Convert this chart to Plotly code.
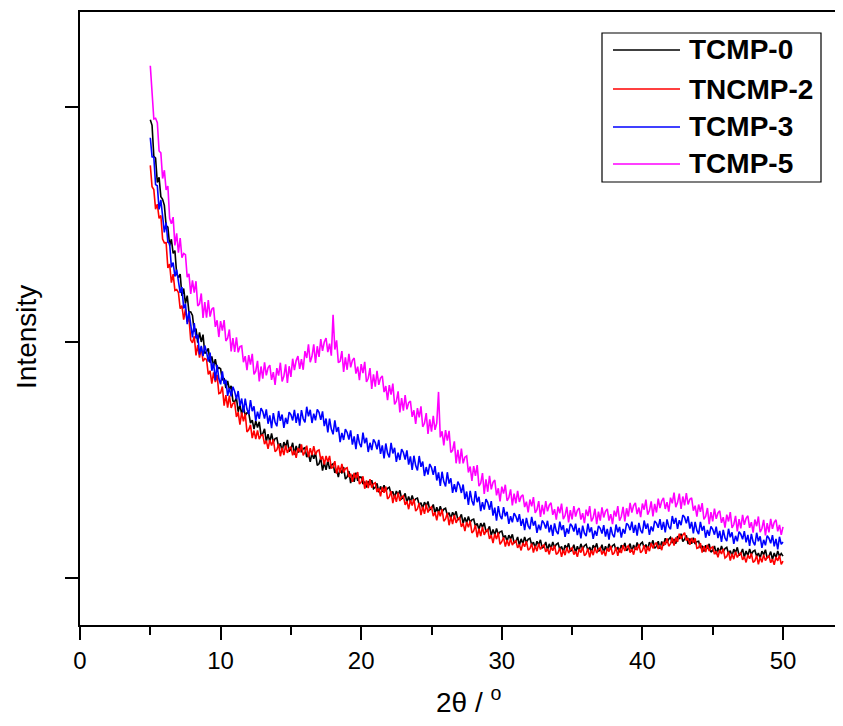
import numpy as np
import plotly.graph_objects as go

# 2-theta grid: 5.000 .. 50.000 deg, step 0.125 (one line = one degree)
two_theta_start = 5.0
two_theta_end = 50.0

names = ["TCMP-0", "TNCMP-2", "TCMP-3", "TCMP-5"]
colors = ["#000000", "#ff0000", "#0000ff", "#ff00ff"]

tcmp0 = [
    2945, 2922, 2790, 2783, 2679, 2701, 2619, 2608,
    2582, 2496, 2490, 2412, 2438, 2378, 2390, 2291,
    2275, 2290, 2198, 2229, 2165, 2199, 2128, 2130,
    2115, 2047, 2059, 1999, 2043, 2002, 2033, 1953,
    1960, 1975, 1914, 1941, 1900, 1929, 1885, 1893,
    1888, 1840, 1849, 1806, 1837, 1801, 1816, 1752,
    1748, 1765, 1706, 1735, 1696, 1729, 1690, 1701,
    1701, 1658, 1670, 1632, 1667, 1639, 1663, 1607,
    1612, 1633, 1579, 1611, 1577, 1614, 1577, 1592,
    1595, 1556, 1572, 1538, 1577, 1556, 1586, 1537,
    1548, 1574, 1524, 1561, 1531, 1569, 1534, 1549,
    1553, 1513, 1528, 1493, 1531, 1506, 1531, 1478,
    1485, 1509, 1456, 1491, 1459, 1498, 1463, 1480,
    1485, 1446, 1462, 1428, 1467, 1444, 1471, 1420,
    1429, 1454, 1403, 1439, 1408, 1447, 1412, 1429,
    1428, 1399, 1409, 1384, 1411, 1395, 1415, 1379,
    1385, 1402, 1364, 1389, 1366, 1394, 1369, 1381,
    1385, 1356, 1367, 1342, 1369, 1353, 1372, 1336,
    1342, 1359, 1321, 1346, 1323, 1350, 1325, 1336,
    1339, 1310, 1320, 1295, 1322, 1306, 1325, 1289,
    1295, 1312, 1275, 1300, 1277, 1305, 1280, 1292,
    1296, 1267, 1277, 1252, 1279, 1263, 1283, 1247,
    1253, 1270, 1232, 1257, 1234, 1261, 1236, 1247,
    1250, 1221, 1231, 1206, 1233, 1216, 1234, 1197,
    1202, 1219, 1181, 1206, 1183, 1210, 1185, 1196,
    1199, 1170, 1180, 1155, 1182, 1166, 1185, 1149,
    1155, 1174, 1139, 1166, 1145, 1174, 1151, 1164,
    1169, 1141, 1152, 1128, 1156, 1141, 1162, 1127,
    1134, 1153, 1118, 1145, 1124, 1153, 1130, 1143,
    1148, 1121, 1134, 1110, 1139, 1125, 1147, 1113,
    1121, 1141, 1107, 1135, 1115, 1145, 1123, 1137,
    1143, 1117, 1131, 1109, 1139, 1125, 1147, 1113,
    1121, 1141, 1107, 1135, 1115, 1145, 1123, 1137,
    1143, 1117, 1131, 1109, 1139, 1126, 1149, 1116,
    1126, 1146, 1112, 1140, 1120, 1151, 1130, 1145,
    1152, 1127, 1142, 1121, 1152, 1138, 1160, 1126,
    1134, 1156, 1124, 1155, 1137, 1169, 1149, 1165,
    1173, 1149, 1165, 1146, 1178, 1165, 1188, 1155,
    1164, 1181, 1144, 1168, 1145, 1171, 1144, 1154,
    1156, 1127, 1137, 1112, 1139, 1124, 1145, 1110,
    1117, 1136, 1101, 1128, 1107, 1136, 1112, 1125,
    1130, 1103, 1116, 1093, 1122, 1108, 1130, 1096,
    1104, 1123, 1088, 1115, 1094, 1123, 1100, 1113,
    1118, 1092, 1106, 1084, 1114, 1099, 1120, 1085,
    1092, 1112, 1078, 1106, 1086, 1115, 1092, 1104,
    1093,
]

tncmp2 = [
    2752, 2661, 2649, 2566, 2587, 2527, 2539, 2439,
    2423, 2424, 2316, 2333, 2254, 2290, 2221, 2225,
    2212, 2144, 2156, 2097, 2141, 2087, 2104, 2010,
    1999, 2026, 1945, 1989, 1936, 1980, 1920, 1932,
    1928, 1864, 1880, 1825, 1873, 1832, 1863, 1783,
    1786, 1813, 1732, 1776, 1723, 1774, 1722, 1741,
    1745, 1684, 1704, 1651, 1703, 1665, 1698, 1620,
    1629, 1650, 1594, 1626, 1590, 1627, 1590, 1605,
    1608, 1568, 1583, 1548, 1586, 1562, 1588, 1536,
    1544, 1569, 1517, 1553, 1522, 1563, 1531, 1550,
    1557, 1521, 1541, 1510, 1552, 1534, 1567, 1521,
    1535, 1562, 1513, 1551, 1522, 1560, 1524, 1540,
    1544, 1503, 1517, 1481, 1518, 1493, 1518, 1465,
    1472, 1496, 1443, 1478, 1446, 1484, 1448, 1464,
    1468, 1428, 1443, 1408, 1446, 1423, 1450, 1399,
    1408, 1432, 1379, 1414, 1382, 1420, 1384, 1400,
    1404, 1365, 1381, 1347, 1386, 1362, 1388, 1336,
    1344, 1369, 1318, 1354, 1323, 1362, 1327, 1344,
    1349, 1310, 1326, 1292, 1331, 1308, 1335, 1284,
    1293, 1318, 1267, 1303, 1272, 1312, 1278, 1296,
    1302, 1263, 1279, 1245, 1284, 1262, 1291, 1241,
    1251, 1276, 1224, 1260, 1229, 1268, 1234, 1251,
    1256, 1217, 1233, 1199, 1238, 1215, 1242, 1191,
    1200, 1225, 1173, 1209, 1178, 1217, 1183, 1200,
    1205, 1166, 1182, 1148, 1187, 1165, 1193, 1143,
    1154, 1173, 1133, 1161, 1136, 1167, 1140, 1153,
    1158, 1128, 1142, 1117, 1149, 1133, 1156, 1118,
    1125, 1146, 1108, 1137, 1114, 1146, 1121, 1135,
    1141, 1111, 1125, 1100, 1132, 1116, 1138, 1100,
    1107, 1128, 1090, 1120, 1097, 1130, 1106, 1121,
    1128, 1099, 1114, 1090, 1123, 1108, 1132, 1095,
    1103, 1125, 1088, 1119, 1097, 1130, 1106, 1121,
    1128, 1100, 1116, 1093, 1127, 1112, 1136, 1099,
    1107, 1130, 1094, 1127, 1106, 1139, 1115, 1130,
    1137, 1108, 1123, 1099, 1132, 1118, 1143, 1107,
    1116, 1139, 1103, 1135, 1114, 1148, 1126, 1142,
    1150, 1123, 1140, 1118, 1153, 1141, 1168, 1135,
    1146, 1171, 1138, 1172, 1153, 1188, 1166, 1183,
    1192, 1159, 1170, 1141, 1170, 1150, 1168, 1126,
    1129, 1148, 1108, 1135, 1110, 1141, 1114, 1127,
    1132, 1101, 1114, 1088, 1119, 1102, 1124, 1085,
    1091, 1112, 1074, 1103, 1080, 1112, 1087, 1101,
    1107, 1077, 1091, 1066, 1098, 1082, 1104, 1066,
    1073, 1095, 1058, 1089, 1067, 1099, 1074, 1088,
    1094, 1065, 1080, 1056, 1089, 1073, 1096, 1058,
    1072,
]

tcmp3 = [
    2869, 2788, 2787, 2670, 2665, 2565, 2605, 2522,
    2467, 2509, 2425, 2421, 2319, 2339, 2280, 2309,
    2266, 2211, 2235, 2144, 2164, 2078, 2132, 2062,
    2021, 2082, 2017, 2032, 1949, 1985, 1942, 1987,
    1960, 1919, 1957, 1880, 1914, 1839, 1905, 1847,
    1822, 1877, 1824, 1841, 1773, 1807, 1771, 1812,
    1792, 1759, 1794, 1731, 1762, 1703, 1762, 1717,
    1695, 1755, 1708, 1729, 1667, 1706, 1676, 1721,
    1707, 1677, 1716, 1655, 1690, 1636, 1700, 1661,
    1644, 1709, 1667, 1694, 1637, 1680, 1654, 1704,
    1694, 1669, 1714, 1659, 1699, 1647, 1713, 1676,
    1661, 1727, 1686, 1714, 1658, 1698, 1669, 1716,
    1703, 1671, 1707, 1645, 1677, 1618, 1677, 1632,
    1610, 1669, 1620, 1641, 1577, 1616, 1586, 1632,
    1618, 1588, 1627, 1566, 1601, 1547, 1611, 1572,
    1555, 1617, 1572, 1595, 1535, 1574, 1543, 1589,
    1575, 1546, 1586, 1527, 1563, 1508, 1571, 1530,
    1512, 1574, 1529, 1553, 1493, 1532, 1501, 1547,
    1533, 1503, 1542, 1481, 1516, 1459, 1519, 1477,
    1457, 1518, 1472, 1494, 1433, 1471, 1439, 1484,
    1469, 1438, 1475, 1414, 1448, 1391, 1451, 1409,
    1389, 1449, 1401, 1423, 1361, 1398, 1365, 1409,
    1393, 1361, 1397, 1335, 1367, 1310, 1370, 1328,
    1308, 1369, 1322, 1345, 1284, 1322, 1290, 1335,
    1320, 1289, 1326, 1265, 1299, 1243, 1305, 1264,
    1250, 1301, 1262, 1281, 1230, 1262, 1236, 1275,
    1262, 1238, 1271, 1221, 1251, 1203, 1255, 1221,
    1207, 1259, 1222, 1242, 1192, 1226, 1203, 1244,
    1233, 1210, 1243, 1194, 1225, 1179, 1232, 1199,
    1186, 1239, 1203, 1224, 1175, 1210, 1188, 1230,
    1220, 1197, 1231, 1182, 1213, 1168, 1222, 1190,
    1178, 1231, 1194, 1215, 1166, 1201, 1179, 1221,
    1211, 1189, 1224, 1176, 1208, 1163, 1217, 1185,
    1173, 1227, 1194, 1217, 1171, 1208, 1188, 1232,
    1224, 1203, 1239, 1192, 1225, 1180, 1234, 1202,
    1190, 1244, 1209, 1231, 1183, 1219, 1198, 1242,
    1233, 1213, 1250, 1204, 1238, 1194, 1249, 1218,
    1207, 1263, 1230, 1255, 1209, 1245, 1224, 1267,
    1258, 1232, 1262, 1210, 1238, 1189, 1238, 1202,
    1186, 1238, 1201, 1221, 1171, 1204, 1179, 1219,
    1207, 1184, 1218, 1169, 1200, 1153, 1204, 1170,
    1156, 1209, 1173, 1194, 1145, 1179, 1156, 1197,
    1186, 1164, 1199, 1151, 1183, 1136, 1187, 1153,
    1139, 1192, 1156, 1177, 1128, 1162, 1139, 1180,
    1169, 1147, 1182, 1134, 1166, 1121, 1175, 1143,
    1153,
]

tcmp5 = [
    3175, 3045, 2949, 2952, 2933, 2813, 2805, 2696,
    2731, 2648, 2664, 2527, 2504, 2532, 2412, 2463,
    2381, 2443, 2360, 2378, 2373, 2277, 2291, 2206,
    2264, 2212, 2260, 2155, 2164, 2208, 2104, 2171,
    2105, 2180, 2110, 2141, 2148, 2066, 2094, 2023,
    2091, 2050, 2095, 2006, 2018, 2055, 1962, 2019,
    1960, 2022, 1958, 1982, 1985, 1916, 1942, 1882,
    1946, 1906, 1952, 1864, 1878, 1922, 1835, 1898,
    1846, 1916, 1860, 1892, 1904, 1841, 1874, 1820,
    1891, 1859, 1914, 1834, 1856, 1907, 1828, 1899,
    1854, 1931, 1883, 1923, 1942, 1888, 1929, 1884,
    1963, 1934, 1992, 1916, 1941, 1992, 1913, 1984,
    1939, 2014, 1964, 2002, 2019, 1959, 1995, 1944,
    2117, 1970, 2009, 1914, 1920, 1963, 1875, 1937,
    1884, 1952, 1894, 1924, 1934, 1868, 1897, 1840,
    1908, 1870, 1918, 1832, 1848, 1891, 1803, 1865,
    1812, 1879, 1820, 1849, 1858, 1789, 1815, 1755,
    1819, 1779, 1825, 1737, 1750, 1792, 1703, 1764,
    1710, 1776, 1716, 1744, 1751, 1684, 1712, 1654,
    1721, 1682, 1729, 1642, 1657, 1700, 1612, 1674,
    1621, 1688, 1629, 1658, 1790, 1597, 1623, 1563,
    1628, 1583, 1625, 1533, 1542, 1580, 1487, 1544,
    1485, 1549, 1487, 1513, 1518, 1448, 1473, 1412,
    1475, 1434, 1479, 1390, 1402, 1445, 1357, 1419,
    1366, 1434, 1376, 1406, 1416, 1351, 1381, 1325,
    1388, 1358, 1396, 1328, 1341, 1376, 1308, 1358,
    1317, 1370, 1323, 1346, 1353, 1301, 1324, 1279,
    1333, 1304, 1343, 1276, 1290, 1326, 1259, 1310,
    1270, 1326, 1283, 1309, 1319, 1268, 1292, 1248,
    1303, 1275, 1316, 1250, 1265, 1302, 1236, 1288,
    1249, 1305, 1261, 1287, 1297, 1248, 1275, 1233,
    1290, 1263, 1305, 1240, 1256, 1294, 1229, 1282,
    1244, 1300, 1257, 1283, 1293, 1244, 1271, 1229,
    1286, 1261, 1305, 1243, 1261, 1302, 1240, 1296,
    1261, 1319, 1278, 1307, 1319, 1271, 1299, 1258,
    1316, 1290, 1333, 1269, 1286, 1325, 1261, 1315,
    1278, 1337, 1297, 1327, 1340, 1293, 1322, 1282,
    1341, 1317, 1362, 1301, 1320, 1358, 1293, 1346,
    1308, 1360, 1312, 1334, 1340, 1286, 1307, 1260,
    1312, 1281, 1318, 1249, 1261, 1297, 1229, 1280,
    1240, 1295, 1251, 1276, 1285, 1234, 1258, 1214,
    1269, 1240, 1280, 1213, 1227, 1264, 1198, 1250,
    1211, 1268, 1226, 1253, 1264, 1213, 1237, 1193,
    1248, 1220, 1261, 1195, 1210, 1247, 1181, 1233,
    1194, 1251, 1209, 1236, 1247, 1198, 1225, 1183,
    1217,
]

series = [tcmp0, tncmp2, tcmp3, tcmp5]

x_ticks = [0, 10, 20, 30, 40, 50]
y_ticks = [1000, 2000, 3000]

fig = go.Figure()
for name, color, ys in zip(names, colors, series):
    xs = np.linspace(two_theta_start, two_theta_end, len(ys))
    fig.add_trace(go.Scatter(x=xs, y=ys, mode="lines", name=name,
                             line=dict(color=color, width=1.6),
                             showlegend=False))

# The page places the figure 8 px from its top-left corner (body margin);
# keep the figure inside the window so no scrollbars appear.
OFF = 8
W, H = 843 - 2 * OFF, 726 - 2 * OFF
L, R, T = 80 - OFF, 0, 12 - OFF
B = H - (625 - OFF)
pw, ph = W - L - R, H - T - B
x_per_px = 50.0 / (783 - 80)
x_max = pw * x_per_px

def px(x):
    # x given in page pixels
    return (x - OFF - L) / pw

def py(y):
    # y given in page pixels
    return (H - B - (y - OFF)) / ph

shapes = [dict(type="rect", xref="paper", yref="paper",
               x0=px(602), x1=px(821), y0=py(182), y1=py(33),
               line=dict(color="#000000", width=1.2), fillcolor="white", layer="above")]
annotations = []
row_y = [50, 89, 127, 164]
for name, color, ry in zip(names, colors, row_y):
    shapes.append(dict(type="line", xref="paper", yref="paper",
                       x0=px(613), x1=px(680), y0=py(ry), y1=py(ry),
                       line=dict(color=color, width=1.5), layer="above"))
    annotations.append(dict(text="<b>%s</b>" % name, xref="paper", yref="paper",
                            x=px(687), y=py(ry), xanchor="left", yanchor="middle",
                            showarrow=False,
                            font=dict(family="Liberation Sans, Arial", size=28, color="black")))

annotations.append(dict(text="Intensity", xref="paper", yref="paper",
                        x=px(27), y=py(337), textangle=-90, showarrow=False,
                        xanchor="center", yanchor="middle",
                        font=dict(family="Liberation Sans, Arial", size=28, color="black")))
annotations.append(dict(text="2θ / <sup>o</sup>", xref="paper", yref="paper",
                        x=px(468), y=py(700), showarrow=False,
                        xanchor="center", yanchor="middle",
                        font=dict(family="Liberation Sans, Arial", size=28, color="black")))

fig.update_layout(
    width=W, height=H,
    margin=dict(l=L, r=R, t=T, b=B, pad=0),
    paper_bgcolor="white", plot_bgcolor="white",
    shapes=shapes, annotations=annotations,
    font=dict(family="Liberation Sans, Arial", color="black"),
)
fig.update_xaxes(range=[0, x_max], tickvals=x_ticks, ticks="outside", ticklen=13,
                 tickwidth=2, tickcolor="black", showline=True, linewidth=2,
                 linecolor="black", mirror=True, showgrid=False, zeroline=False,
                 tickfont=dict(size=24, family="Liberation Sans, Arial"),
                 minor=dict(dtick=5, ticks="outside", ticklen=8, tickwidth=2,
                            tickcolor="black", showgrid=False))
fig.update_yaxes(range=[800.4, 3403], tickvals=y_ticks, ticks="outside", ticklen=13,
                 tickwidth=2, tickcolor="black", showline=True, linewidth=2,
                 linecolor="black", mirror=False, showgrid=False, zeroline=False,
                 showticklabels=False)

fig.write_html("out.html")
